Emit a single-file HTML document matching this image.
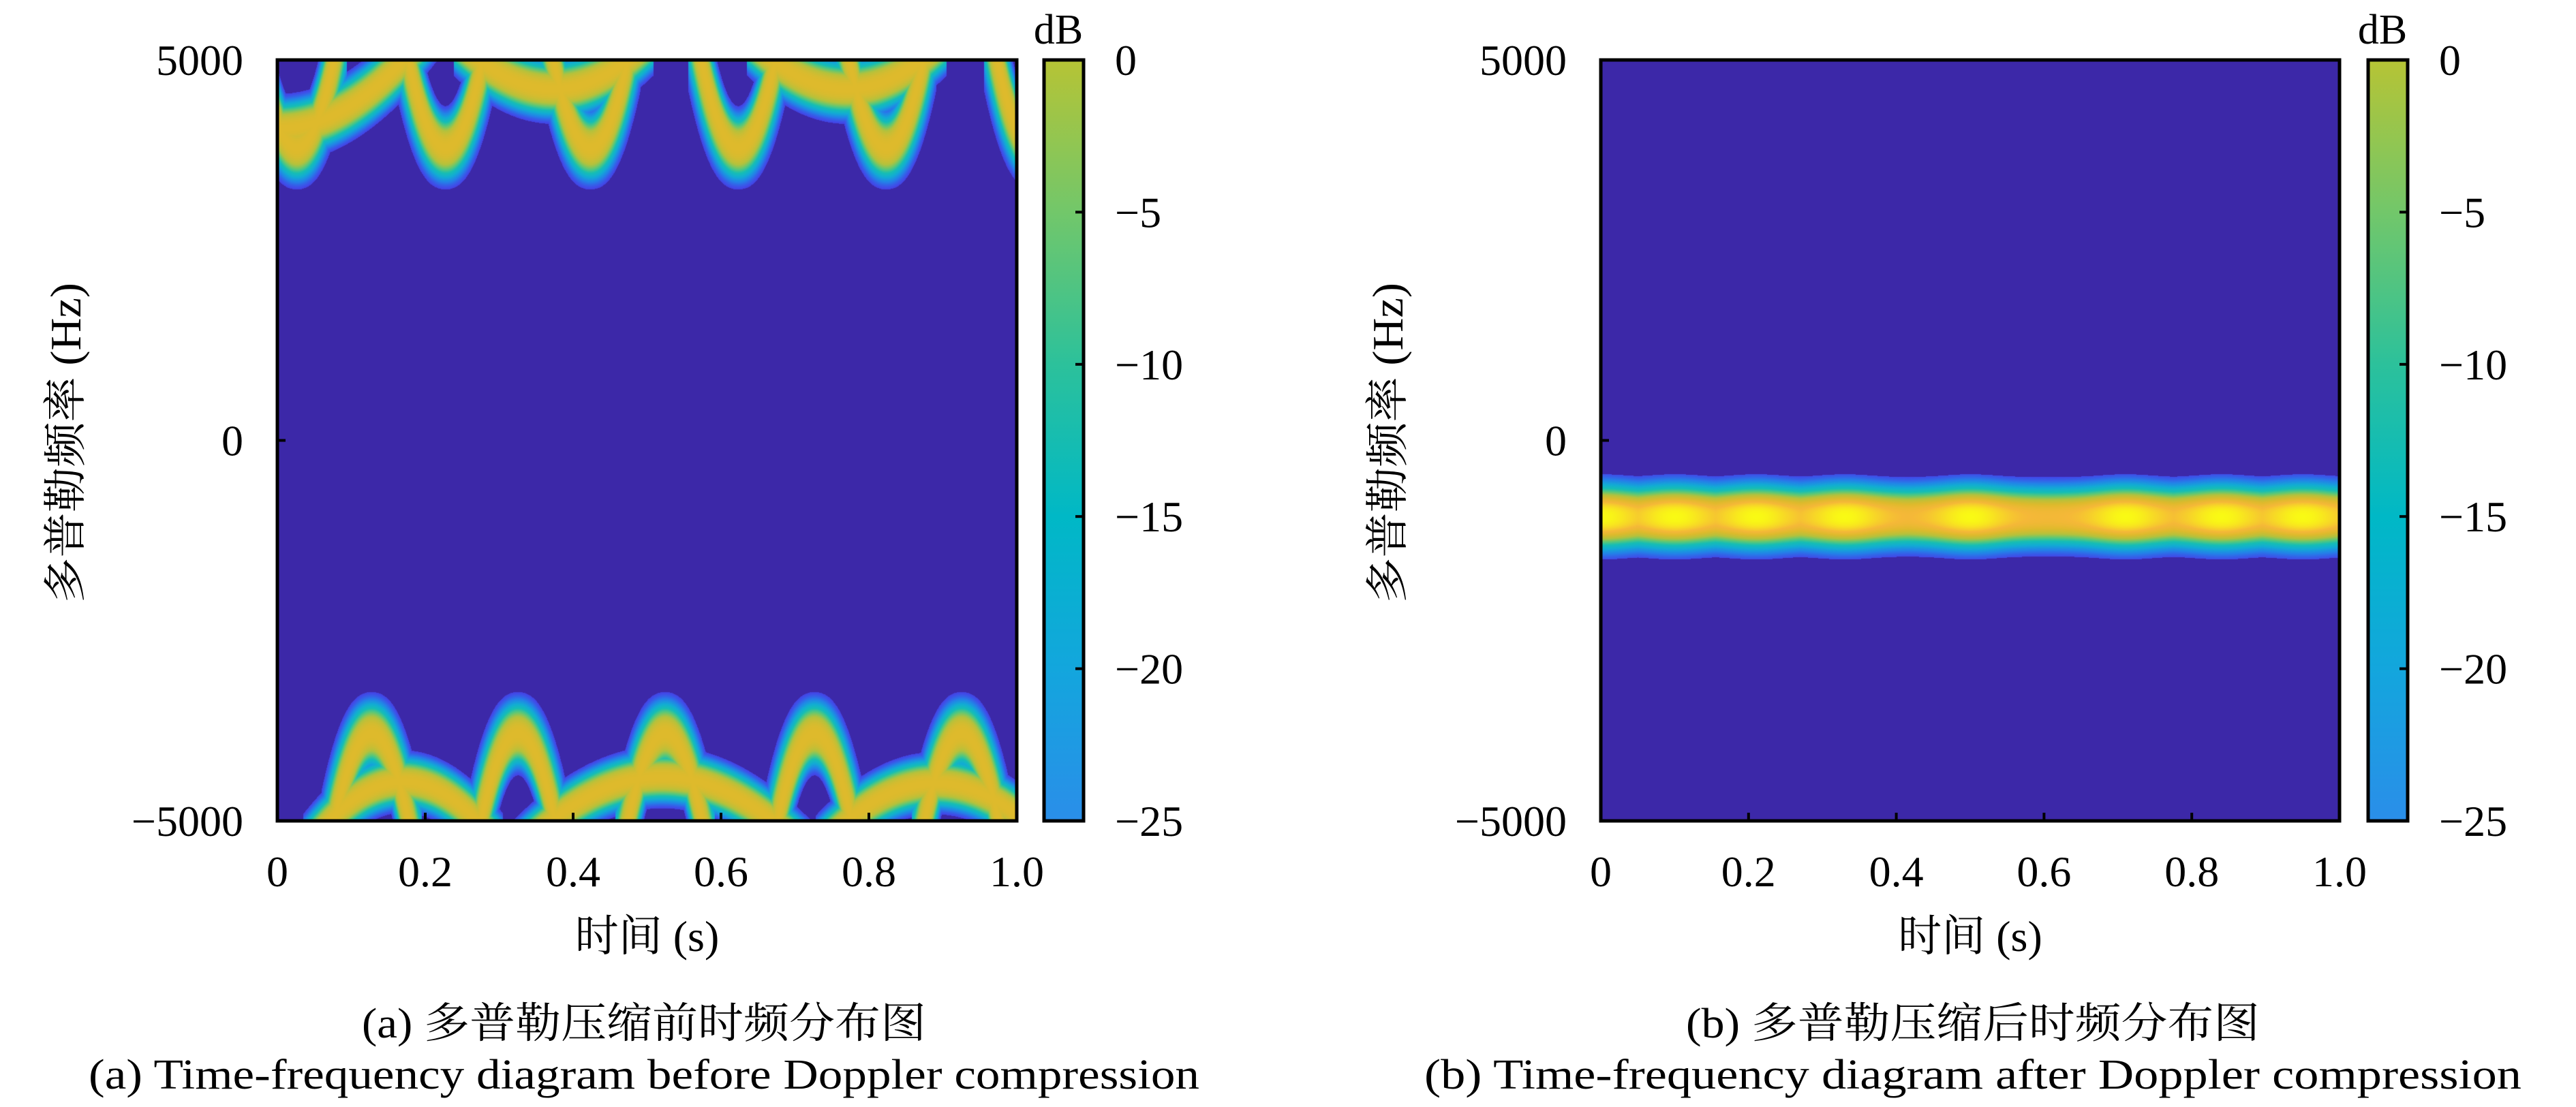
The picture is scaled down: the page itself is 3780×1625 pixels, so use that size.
<!DOCTYPE html>
<html><head><meta charset="utf-8">
<style>
html,body{margin:0;padding:0;background:#fff;}
body{width:3780px;height:1625px;position:relative;overflow:hidden;font-family:"Liberation Serif","Noto Serif CJK SC",serif;}
canvas{position:absolute;display:block;}
svg{position:absolute;left:0;top:0;}
</style></head><body>
<canvas id="hmA" style="left:407px;top:88px" width="1085" height="1117"></canvas>
<canvas id="hmB" style="left:2349px;top:88px" width="1084" height="1117"></canvas>
<svg id="ov" width="3780" height="1625">
<defs>
<linearGradient id="cbg" x1="0" y1="1" x2="0" y2="0">
<stop offset="0" stop-color="#2a8ee9"/>
<stop offset="0.2" stop-color="#13a6dd"/>
<stop offset="0.4" stop-color="#00b8c6"/>
<stop offset="0.6" stop-color="#2cc19b"/>
<stop offset="0.8" stop-color="#72c76a"/>
<stop offset="1" stop-color="#b6c435"/>
</linearGradient>
</defs>
</svg>
<script>
// ---------- data ----------
const timeTicks = [0, 0.2, 0.4, 0.6, 0.8, 1.0];
const timeTickLabels = ["0", "0.2", "0.4", "0.6", "0.8", "1.0"];
const freqTicks = [5000, 0, -5000];
const freqTickLabels = ["5000", "0", "\u22125000"];
const dbTicks = [0, -5, -10, -15, -20, -25];
const dbTickLabels = ["0", "\u22125", "\u221210", "\u221215", "\u221220", "\u221225"];
// (a) arcs: narrow U dips from the top edge
const topArcCenters = [0.026, 0.227, 0.423, 0.623, 0.823, 1.023];
const topArcDepths = [1150, 1150, 1150, 1150, 1150, 1150];
// (a) broad shallow arcs at the top
const topBroadCenters = [0.0, 0.373, 0.77];
const topBroadDepths = [900, 380, 380];
const topBroadHalfWidths = [0.17, 0.1, 0.1];
// (a) narrow peaks rising from the bottom edge
const botArcCenters = [0.127, 0.325, 0.524, 0.726, 0.925];
const botArcHeights = [1150, 1150, 1150, 1150, 1150];
// (a) broad shallow arcs at the bottom
const botBroadCenters = [0.17, 0.52, 0.89];
const botBroadHeights = [520, 580, 500];
const botBroadHalfWidths = [0.1, 0.15, 0.12];
// (b) compressed band
const bandFreq = -1000;
const blobCenters = [0.0, 0.1, 0.21, 0.33, 0.5, 0.71, 0.84, 0.95];
const blobAmps = [1, 1, 1, 1, 1, 1, 1, 1];

// ---------- helpers ----------
const NS = "http://www.w3.org/2000/svg";
const svg = document.getElementById("ov");
function el(tag, attrs, txt){const e=document.createElementNS(NS,tag);for(const k in attrs)e.setAttribute(k,attrs[k]);if(txt!==undefined)e.textContent=txt;svg.appendChild(e);return e;}
const stops=[[0,60,40,168],[0.12,66,72,232],[0.25,35,130,232],[0.38,18,172,212],[0.5,22,190,180],[0.6,90,200,120],[0.7,180,194,60],[0.8,222,186,44],[0.88,245,184,56],[1,249,250,20]];
function cmap(g){g=Math.max(0,Math.min(1,g));for(let i=1;i<stops.length;i++){if(g<=stops[i][0]){const a=stops[i-1],b=stops[i],f=(g-a[0])/(b[0]-a[0]);return [a[1]+(b[1]-a[1])*f,a[2]+(b[2]-a[2])*f,a[3]+(b[3]-a[3])*f];}}return stops[stops.length-1].slice(1);}

function drawA(){
  const c=document.getElementById("hmA"),W=c.width,H=c.height,ctx=c.getContext("2d");
  const img=ctx.createImageData(W,H);
  const feats=[];
  topArcCenters.forEach((cc,i)=>feats.push({c:cc,w:0.05,D:topArcDepths[i]/10000*H,s:1,hv:48,hx:17}));
  topBroadCenters.forEach((cc,i)=>feats.push({c:cc,w:topBroadHalfWidths[i],D:topBroadDepths[i]/10000*H,s:1,hv:40,hx:20}));
  botArcCenters.forEach((cc,i)=>feats.push({c:cc,w:0.05,D:botArcHeights[i]/10000*H,s:-1,hv:48,hx:17}));
  botBroadCenters.forEach((cc,i)=>feats.push({c:cc,w:botBroadHalfWidths[i],D:botBroadHeights[i]/10000*H,s:-1,hv:36,hx:20}));
  for(let x=0;x<W;x++){
    const cur=[];
    for(const f of feats){
      const wpx=f.w*W,u=(x-f.c*W)/wpx;
      if(Math.abs(u)>1.35)continue;
      const dd=f.D*(1-u*u);
      const yc=f.s>0?dd:H-dd;
      const slope=2*f.D*u/wpx;
      cur.push([yc,Math.sqrt(f.hv*f.hv+slope*slope*f.hx*f.hx)]);
    }
    for(let y=0;y<H;y++){
      let g=0;
      for(const q of cur){const d=Math.abs(y-q[0])/q[1];const v=0.8*Math.exp(-Math.pow(d,3));if(v>g)g=v;}
      if(g<0.1)g=0;
      const col=cmap(g),k=(y*W+x)*4;
      img.data[k]=col[0];img.data[k+1]=col[1];img.data[k+2]=col[2];img.data[k+3]=255;
    }
  }
  ctx.putImageData(img,0,0);
}
function drawB(){
  const c=document.getElementById("hmB"),W=c.width,H=c.height,ctx=c.getContext("2d");
  const img=ctx.createImageData(W,H);
  const yc=(5000-bandFreq)/10000*H;
  for(let x=0;x<W;x++){
    const t=x/W;let m=0;
    blobCenters.forEach((cc,i)=>{const v=blobAmps[i]*Math.exp(-Math.pow((t-cc)/0.05,2));if(v>m)m=v;});
    const A=0.87+0.13*m, sc=0.93+0.07*m;
    for(let y=0;y<H;y++){
      const df=Math.abs(y-yc)/(H/10000)/sc;
      let g=df>560?0:A*Math.exp(-Math.pow(df/430,2.6));
      if(g<0.1)g=0;
      const col=cmap(g),k=(y*W+x)*4;
      img.data[k]=col[0];img.data[k+1]=col[1];img.data[k+2]=col[2];img.data[k+3]=255;
    }
  }
  ctx.putImageData(img,0,0);
}
drawA();drawB();

function panel(p){
  const {x0,x1,y0,y1,cb0,cb1,cx,capZh,capEn,zhLen,enLen,ylx,key}=p;
  const X=t=>x0+(x1-x0)*t, Y=f=>y0+(5000-f)/10000*(y1-y0), YD=d=>y0+(-d)/25*(y1-y0);
  const fr=el("rect",{x:x0,y:y0,width:x1-x0,height:y1-y0,fill:"none",stroke:"#000","stroke-width":5});
  
  
  timeTicks.forEach((t,i)=>{
    const tk=el("line",{x1:X(t),x2:X(t),y1:y1,y2:y1-12,stroke:"#000","stroke-width":4});
    
    
    const lb=el("text",{x:X(t),y:1301,"font-size":64,"text-anchor":"middle"},timeTickLabels[i]);
    
    
  });
  freqTicks.forEach((f,i)=>{
    const tk=el("line",{x1:x0,x2:x0+12,y1:Y(f),y2:Y(f),stroke:"#000","stroke-width":4});
    
    
    const lb=el("text",{x:x0-50,y:Y(f)+22,"font-size":64,"text-anchor":"end"},freqTickLabels[i]);
    
    
  });
  const xl=el("text",{x:(x0+x1)/2,y:1396,"font-size":64,"text-anchor":"middle"},"时间 (s)");
  
  
  const yl=el("text",{x:0,y:0,"font-size":64,"text-anchor":"middle",transform:`translate(${ylx},650) rotate(-90)`,textLength:470,lengthAdjust:"spacingAndGlyphs"},"多普勒频率 (Hz)");
  
  
  const cb=el("rect",{x:cb0,y:y0,width:cb1-cb0,height:y1-y0,fill:"url(#cbg)",stroke:"#000","stroke-width":5});
  
  
  dbTicks.forEach((d,i)=>{
    const tk=el("line",{x1:cb1,x2:cb1-12,y1:YD(d),y2:YD(d),stroke:"#000","stroke-width":4});
    
    
    const lb=el("text",{x:cb1+46,y:YD(d)+22,"font-size":64},dbTickLabels[i]);
    
    
  });
  const db=el("text",{x:(cb0+cb1)/2-8,y:64,"font-size":62,"text-anchor":"middle"},"dB");
  
  
  const c1=el("text",{x:cx,y:1523,"font-size":62,"text-anchor":"middle",textLength:zhLen,lengthAdjust:"spacingAndGlyphs"},capZh);
  
  
  const c2=el("text",{x:cx,y:1598,"font-size":62,"text-anchor":"middle",textLength:enLen,lengthAdjust:"spacingAndGlyphs"},capEn);
  
  
}
panel({key:"panel-a",x0:407,x1:1492,y0:88,y1:1205,cb0:1532,cb1:1590,cx:945,ylx:118,
  capZh:"(a) 多普勒压缩前时频分布图",capEn:"(a) Time-frequency diagram before Doppler compression",zhLen:828,enLen:1630});
panel({key:"panel-b",x0:2349,x1:3433,y0:88,y1:1205,cb0:3475,cb1:3533,cx:2895,ylx:2058,
  capZh:"(b) 多普勒压缩后时频分布图",capEn:"(b) Time-frequency diagram after Doppler compression",zhLen:842,enLen:1610});
</script>
</body></html>
